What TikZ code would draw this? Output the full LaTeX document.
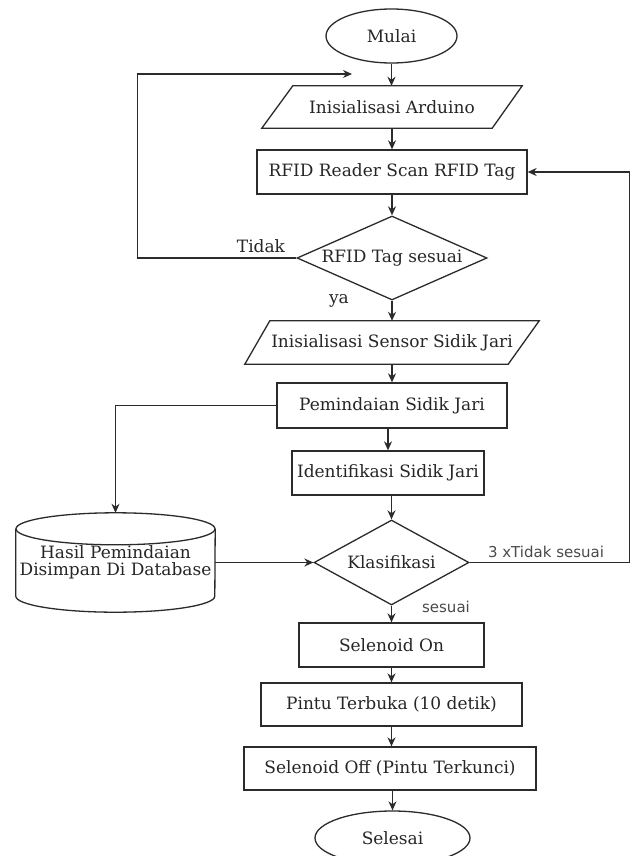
\documentclass[tikz,border=0pt]{standalone}
\usepackage{fontspec}
\setmainfont{DejaVu Serif}
\newfontfamily\labelsans{DejaVu Sans}
\usetikzlibrary{shapes.geometric,arrows.meta,calc}
\definecolor{ln}{HTML}{2B2B2B}
\definecolor{tx}{HTML}{262626}
\definecolor{gl}{HTML}{4A4A4A}
\begin{document}
\begin{tikzpicture}[x=1pt,y=-1pt,
  every node/.style={font=\fontsize{17}{20}\selectfont, text=tx},
  line/.style={draw=ln, line width=1.3pt},
  arr/.style={line, -{Stealth[length=9pt,width=8pt]}},
  procbox/.style={draw=ln, line width=1.3pt, rectangle, inner sep=0pt},
  terminal/.style={draw=ln, line width=1.3pt, ellipse, inner sep=0pt},
  decision/.style={draw=ln, line width=1.3pt, diamond, inner sep=0pt},
  plain/.style={inner sep=0pt},
  glabel/.style={font=\labelsans\fontsize{15}{18}\selectfont, text=gl, inner sep=0pt}
]
\useasboundingbox (0,0) rectangle (631,856);
\fill[white] (0,0) rectangle (631,856);

% nodes
\node[terminal, minimum width=131pt, minimum height=54pt] (start) at (391.5,36) {Mulai};
\node[plain, minimum width=230pt, minimum height=42pt] (init) at (392,107) {Inisialisasi Arduino};
\node[procbox, minimum width=270pt, minimum height=44pt] (rfid) at (392,172) {RFID Reader Scan RFID Tag};
\node[decision, aspect=2.26, minimum width=190pt, minimum height=84pt] (dec) at (392,258) {RFID Tag sesuai};
\node[plain, minimum width=266pt, minimum height=43pt] (sensor) at (392,342.5) {Inisialisasi Sensor Sidik Jari};
\node[procbox, minimum width=230pt, minimum height=45pt] (scan) at (392,405.5) {Pemindaian Sidik Jari};
\node[procbox, minimum width=192pt, minimum height=44pt] (ident) at (388,473) {Identifikasi Sidik Jari};
\node[decision, aspect=1.82, minimum width=155pt, minimum height=85pt] (klas) at (391.5,562.5) {Klasifikasi};
\node[plain, minimum width=199pt, minimum height=99pt, align=center, font=\fontsize{17}{17}\selectfont] (db) at (115.5,562.5) {Hasil Pemindaian\\Disimpan Di Database};
\node[procbox, minimum width=185pt, minimum height=44pt] (selon) at (391.5,645) {Selenoid On};
\node[procbox, minimum width=261pt, minimum height=43pt] (pintu) at (391.5,704.5) {Pintu Terbuka (10 detik)};
\node[procbox, minimum width=292pt, minimum height=43pt] (seloff) at (390,768.5) {Selenoid Off (Pintu Terkunci)};
\node[terminal, minimum width=155pt, minimum height=54pt] (finish) at (392.5,838) {Selesai};

% parallelograms
\draw[line] ($(init.north west)+(16,0)$) -- ($(init.north east)+(15,0)$) -- ($(init.south east)+(-15,0)$) -- ($(init.south west)+(-15,0)$) -- cycle;
\draw[line] ($(sensor.north west)+(11,0)$) -- ($(sensor.north east)+(14,0)$) -- ($(sensor.south east)+(-17,0)$) -- ($(sensor.south west)+(-14,0)$) -- cycle;

% cylinder
\draw[line] ($(db.north)+(0,16)$) ellipse [x radius=99.5pt, y radius=16pt];
\draw[line] ($(db.north west)+(0,16)$) -- ($(db.south west)+(0,-16)$)
  arc[start angle=180, end angle=360, x radius=99.5pt, y radius=16pt]
  -- ($(db.north east)+(0,16)$);

% labels
\node[plain] (ltidak) at (261,246) {Tidak};
\node[plain] (lya) at (339,301) {ya};
\node[glabel] (l3x) at (546,552) {3 xTidak sesuai};
\node[glabel] (lsesuai) at (446,607) {sesuai};

\coordinate (loopend) at (352,74);

% connectors
\draw[arr] (start.south) -- (start.south |- init.north);
\draw[arr] (init.south) -- (rfid.north);
\draw[arr] (rfid.south) -- (dec.north);
\draw[arr] (dec.south) -- (sensor.north);
\draw[arr] (sensor.south) -- (scan.north);
\draw[arr] (scan.south -| ident.north) -- (ident.north);
\draw[arr] (ident.south -| klas.north) -- (klas.north);
\draw[arr] (klas.south) -- (selon.north);
\draw[arr] (selon.south) -- (pintu.north);
\draw[arr] (pintu.south) -- (pintu.south |- seloff.north);
\draw[arr] (seloff.south -| finish.north) -- (finish.north);

\draw[arr] (dec.west) -- ++(-159,0) |- (loopend);
\draw[arr] (scan.west) -| (db.north);
\draw[arr] (db.east) -- (klas.west);
\draw[arr] (klas.east) -- ++(160,0) |- (rfid.east);
\end{tikzpicture}
\end{document}
